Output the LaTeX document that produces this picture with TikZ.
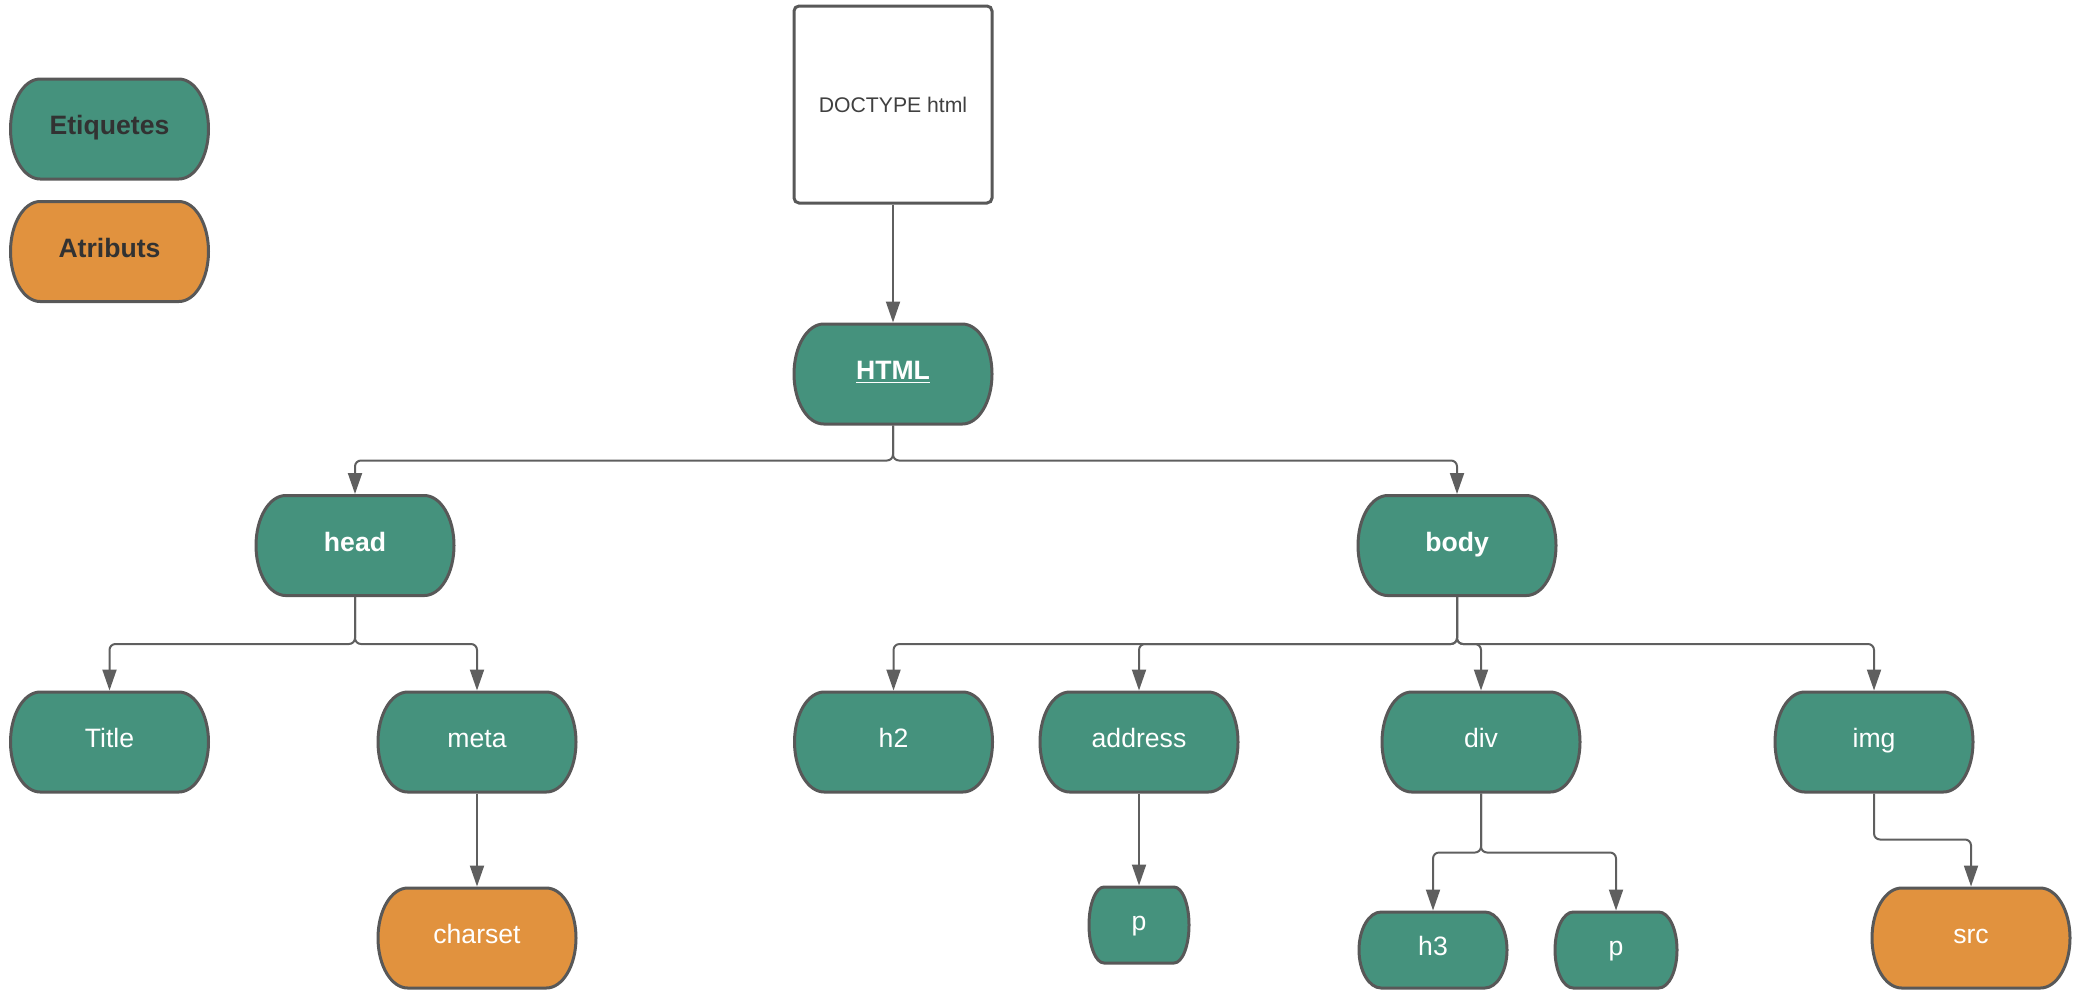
\documentclass[tikz,border=0pt]{standalone}
\usepackage{fontspec}
\setmainfont{Liberation Sans}
\usetikzlibrary{arrows.meta}
\definecolor{tagg}{RGB}{69,146,125}
\definecolor{attro}{RGB}{225,146,62}
\definecolor{edgeg}{RGB}{88,88,88}
\definecolor{lineg}{RGB}{95,95,95}
\definecolor{legtxt}{RGB}{50,50,50}
\definecolor{doctxt}{RGB}{64,64,64}
\makeatletter
\newdimen\pill@L \newdimen\pill@R \newdimen\pill@T \newdimen\pill@B \newdimen\pill@H \newdimen\pill@s
\newdimen\pill@yc \newdimen\pill@cs \newdimen\pill@ca
\pgfkeys{/pgf/pill sag/.initial=0.15}
\pgfdeclareshape{pill}{
  \inheritsavedanchors[from=rectangle]
  \inheritanchorborder[from=rectangle]
  \inheritanchor[from=rectangle]{center}
  \inheritanchor[from=rectangle]{north}
  \inheritanchor[from=rectangle]{south}
  \inheritanchor[from=rectangle]{east}
  \inheritanchor[from=rectangle]{west}
  \inheritanchor[from=rectangle]{text}
  \inheritanchor[from=rectangle]{base}
  \inheritanchor[from=rectangle]{mid}
  \backgroundpath{%
    \southwest \pill@L=\pgf@x \pill@B=\pgf@y
    \northeast \pill@R=\pgf@x \pill@T=\pgf@y
    \pgfmathsetlength\pill@s{\pgfkeysvalueof{/pgf/outer xsep}}%
    \advance\pill@L by \pill@s \advance\pill@R by -\pill@s
    \pgfmathsetlength\pill@s{\pgfkeysvalueof{/pgf/outer ysep}}%
    \advance\pill@B by \pill@s \advance\pill@T by -\pill@s
    \pill@H=\pill@T \advance\pill@H by -\pill@B \pill@H=.5\pill@H
    \pill@yc=\dimexpr(\pill@T+\pill@B)/2\relax
    \pill@s=\pill@R \advance\pill@s by -\pill@L
    \pgfmathsetlength\pill@s{\pgfkeysvalueof{/pgf/pill sag}*\the\pill@s}%
    \pill@cs=0.5523\pill@s
    \pill@ca=0.5523\pill@H
    \advance\pill@L by \pill@s
    \advance\pill@R by -\pill@s
    \pgfpathmoveto{\pgfqpoint{\pill@L}{\pill@T}}%
    \pgfpathlineto{\pgfqpoint{\pill@R}{\pill@T}}%
    \pgfpathcurveto{\pgfqpoint{\dimexpr\pill@R+\pill@cs\relax}{\pill@T}}%
      {\pgfqpoint{\dimexpr\pill@R+\pill@s\relax}{\dimexpr\pill@yc+\pill@ca\relax}}%
      {\pgfqpoint{\dimexpr\pill@R+\pill@s\relax}{\pill@yc}}%
    \pgfpathcurveto{\pgfqpoint{\dimexpr\pill@R+\pill@s\relax}{\dimexpr\pill@yc-\pill@ca\relax}}%
      {\pgfqpoint{\dimexpr\pill@R+\pill@cs\relax}{\pill@B}}%
      {\pgfqpoint{\pill@R}{\pill@B}}%
    \pgfpathlineto{\pgfqpoint{\pill@L}{\pill@B}}%
    \pgfpathcurveto{\pgfqpoint{\dimexpr\pill@L-\pill@cs\relax}{\pill@B}}%
      {\pgfqpoint{\dimexpr\pill@L-\pill@s\relax}{\dimexpr\pill@yc-\pill@ca\relax}}%
      {\pgfqpoint{\dimexpr\pill@L-\pill@s\relax}{\pill@yc}}%
    \pgfpathcurveto{\pgfqpoint{\dimexpr\pill@L-\pill@s\relax}{\dimexpr\pill@yc+\pill@ca\relax}}%
      {\pgfqpoint{\dimexpr\pill@L-\pill@cs\relax}{\pill@T}}%
      {\pgfqpoint{\pill@L}{\pill@T}}%
    \pgfpathclose
  }
}
\makeatother
\begin{document}
\begin{tikzpicture}[x=0.5pt,y=-0.5pt,
  tag/.style={shape=pill, fill=tagg, draw=edgeg, line width=1.5pt, text=white,
    font=\fontsize{13.3}{16}\selectfont, minimum width=99pt, minimum height=50pt,
    inner sep=0pt, text height=9.5pt, text depth=4pt, line join=round},
  attr/.style={tag, fill=attro},
  small/.style={minimum height=38pt},
  legend/.style={tag, text=legtxt, font=\fontsize{13.3}{16}\selectfont\bfseries},
  conn/.style={draw=lineg, line width=1pt, rounded corners=3pt,
    -{Triangle[length=10.5pt,width=7pt]}}
]
\useasboundingbox (0,0) rectangle (2080,1002);
% legend
\node[legend] (etiq) at (109.5,129) {Etiquetes};
\node[legend, fill=attro] (atrib) at (109.5,251.5) {Atributs};
% doctype
\node[draw=edgeg, line width=1.5pt, fill=white, rounded corners=2.5pt,
  minimum width=99pt, minimum height=98.5pt, inner sep=0pt, text=doctxt,
  font=\fontsize{10.6}{13}\selectfont] (doctype) at (893,104.5) {DOCTYPE html};
% tree
\node[tag, font=\fontsize{13.3}{16}\selectfont\bfseries] (html) at (893,374) {\underline{HTML}};
\node[tag, font=\fontsize{13.3}{16}\selectfont\bfseries] (head) at (355,545.5) {head};
\node[tag, font=\fontsize{13.3}{16}\selectfont\bfseries] (body) at (1457,545.5) {body};
\node[tag] (title) at (109.5,742) {Title};
\node[tag] (meta) at (477,742) {meta};
\node[attr] (charset) at (477,938) {charset};
\node[tag] (h2) at (893.5,742) {h2};
\node[tag] (address) at (1139,742) {address};
\node[tag] (div) at (1481,742) {div};
\node[tag] (img) at (1874,742) {img};
\node[tag, small, minimum width=50pt] (p1) at (1139,925) {p};
\node[tag, small, minimum width=74pt] (h3) at (1433,950) {h3};
\node[tag, small, minimum width=61pt] (p2) at (1616,950) {p};
\node[attr] (src) at (1971,938) {src};
% connectors
\draw[conn] (doctype.south) -- (html.north);
\draw[conn] (html.south) -- ++(0,35) -| (head.north);
\draw[conn] (html.south) -- ++(0,35) -| (body.north);
\draw[conn] (head.south) -- ++(0,47) -| (title.north);
\draw[conn] (head.south) -- ++(0,47) -| (meta.north);
\draw[conn] (meta.south) -- (charset.north);
\draw[conn] (body.south) -- ++(0,47) -| (h2.north);
\draw[conn] (body.south) -- ++(0,47) -| (address.north);
\draw[conn] (body.south) -- ++(0,47) -| (div.north);
\draw[conn] (body.south) -- ++(0,47) -| (img.north);
\draw[conn] (address.south) -- (p1.north);
\draw[conn] (div.south) -- ++(0,59) -| (h3.north);
\draw[conn] (div.south) -- ++(0,59) -| (p2.north);
\draw[conn] (img.south) -- ++(0,46) -| (src.north);
\end{tikzpicture}
\end{document}
